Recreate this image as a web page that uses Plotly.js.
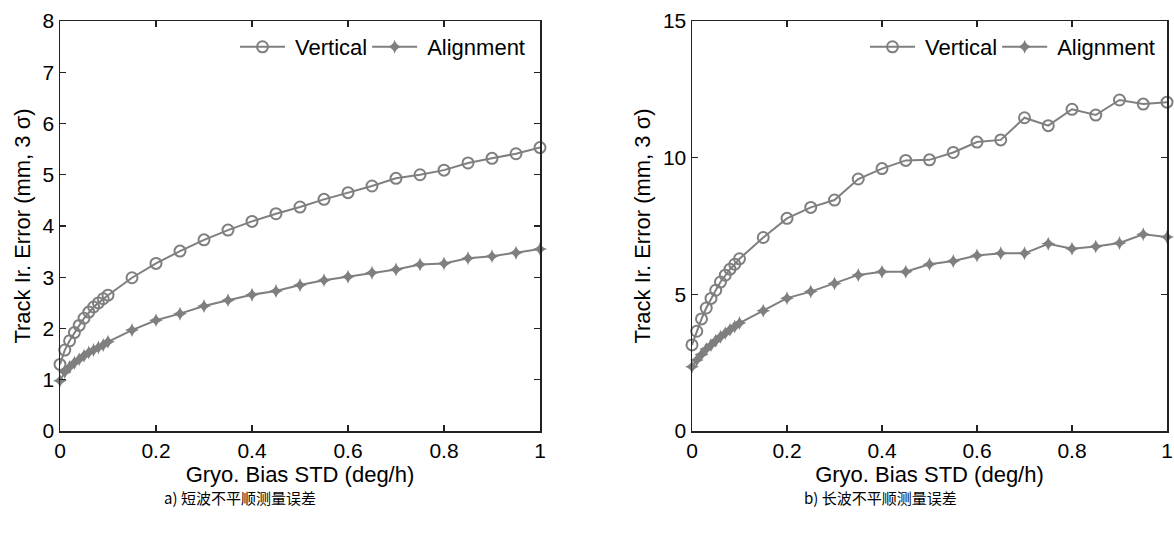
<!DOCTYPE html>
<html>
<head>
<meta charset="utf-8">
<script src="https://cdn.plot.ly/plotly-3.0.1.min.js"></script>
<style>html,body{margin:0;padding:0;background:#fff;}#chart{width:1174px;height:537px;}</style>
</head>
<body>
<div id="chart"></div>
<script>
// Gyro bias STD (deg/h)
const gyroBias = [0,0.01,0.02,0.03,0.04,0.05,0.06,0.07,0.08,0.09,0.1,
  0.15,0.2,0.25,0.3,0.35,0.4,0.45,0.5,0.55,0.6,0.65,0.7,0.75,0.8,0.85,0.9,0.95,1.0];
// a) short-wave
const shortVertical = [1.30,1.58,1.76,1.92,2.06,2.20,2.32,2.42,2.50,2.58,2.65,
  2.99,3.27,3.51,3.73,3.92,4.09,4.24,4.37,4.52,4.65,4.78,4.93,5.00,5.09,5.23,5.32,5.41,5.53];
const shortAlignment = [0.98,1.15,1.25,1.33,1.40,1.47,1.53,1.58,1.63,1.68,1.74,
  1.97,2.16,2.29,2.44,2.55,2.66,2.73,2.85,2.94,3.01,3.09,3.15,3.25,3.27,3.37,3.41,3.48,3.55];
// b) long-wave
const longVertical = [3.15,3.65,4.10,4.50,4.85,5.15,5.45,5.70,5.92,6.10,6.30,
  7.08,7.78,8.18,8.45,9.22,9.60,9.90,9.92,10.19,10.57,10.65,11.46,11.17,11.77,11.56,12.11,11.96,12.03];
const longAlignment = [2.35,2.60,2.80,3.00,3.15,3.30,3.45,3.58,3.70,3.82,3.95,
  4.40,4.86,5.10,5.40,5.71,5.83,5.83,6.10,6.22,6.42,6.50,6.50,6.85,6.67,6.75,6.88,7.20,7.10];
const seriesNames = ["Vertical", "Alignment"];
const captions = ["a) 短波不平顺测量误差", "b) 长波不平顺测量误差"];
const xTitle = "Gryo. Bias STD (deg/h)";
const yTitle = "Track Ir. Error (mm, 3 σ)";

const grey = "#7f7f7f";
const fam = "Liberation Sans, Arial, sans-serif";
const tickFont = {family: fam, size: 21, color: "#000"};
const titleFont = {family: fam, size: 22, color: "#000"};
const capFont = {family: "Noto Sans CJK SC, Liberation Sans, sans-serif", size: 15, color: "#000"};

function vTrace(y, xa, ya, lg) {
  return {x: gyroBias, y: y, xaxis: xa, yaxis: ya, legend: lg, name: seriesNames[0],
    mode: "lines+markers", cliponaxis: false,
    line: {color: grey, width: 2},
    marker: {symbol: "circle-open", size: 11, color: grey, line: {width: 2, color: grey}}};
}
function aTrace(y, xa, ya, lg) {
  return {x: gyroBias, y: y, xaxis: xa, yaxis: ya, legend: lg, name: seriesNames[1],
    mode: "lines+markers", cliponaxis: false,
    line: {color: grey, width: 2},
    marker: {symbol: "star-diamond", size: 10, color: grey, line: {width: 0}}};
}

const traces = [
  vTrace(shortVertical, "x", "y", "legend"),
  aTrace(shortAlignment, "x", "y", "legend"),
  vTrace(longVertical, "x2", "y2", "legend2"),
  aTrace(longAlignment, "x2", "y2", "legend2")
];

const W = 1174, H = 537;
const yDom = [(H - 431) / H, (H - 21) / H];
function xAxis(dom) {
  return {domain: dom, range: [0, 1], tickvals: [0,0.2,0.4,0.6,0.8,1], ticktext: ["0","0.2","0.4","0.6","0.8","1"],
    ticks: "inside", ticklen: 6, tickwidth: 1.2, tickcolor: "#222",
    showline: true, linecolor: "#222", linewidth: 1.5, mirror: "ticks",
    showgrid: false, zeroline: false, tickfont: tickFont, ticklabeloverflow: "allow",
    title: {text: xTitle, font: titleFont, standoff: 4}};
}
function yAxis(xa, range, dtick) {
  return {domain: yDom, anchor: xa, range: range, dtick: dtick,
    ticks: "inside", ticklen: 6, tickwidth: 1.2, tickcolor: "#222",
    showline: true, linecolor: "#222", linewidth: 1.5, mirror: "ticks",
    showgrid: false, zeroline: false, tickfont: tickFont, ticklabeloverflow: "allow",
    title: {text: yTitle, font: titleFont, standoff: 6}};
}

const legendCommon = {orientation: "h", xanchor: "right", y: 1 - 47 / H, yanchor: "middle",
  bgcolor: "rgba(0,0,0,0)", font: titleFont, itemwidth: 45, tracegroupgap: 0};

const layout = {
  width: W, height: H,
  margin: {l: 0, r: 0, t: 0, b: 0},
  paper_bgcolor: "#fff", plot_bgcolor: "#fff",
  font: tickFont,
  xaxis: Object.assign(xAxis([60 / W, 540 / W]), {anchor: "y"}),
  yaxis: yAxis("x", [0, 8], 1),
  xaxis2: Object.assign(xAxis([692 / W, 1167 / W]), {anchor: "y2"}),
  yaxis2: yAxis("x2", [0, 15], 5),
  legend: Object.assign({x: 530 / W}, legendCommon),
  legend2: Object.assign({x: 1160 / W}, legendCommon),
  annotations: [
    {text: captions[0], x: 240 / W, y: 1 - 497 / H, xref: "paper", yref: "paper", showarrow: false,
      xanchor: "center", yanchor: "middle", font: capFont},
    {text: captions[1], x: 880 / W, y: 1 - 497 / H, xref: "paper", yref: "paper", showarrow: false,
      xanchor: "center", yanchor: "middle", font: capFont}
  ],
  showlegend: true
};

Plotly.newPlot("chart", traces, layout, {staticPlot: true, displayModeBar: false}).then(function (gd) {
  // stretch legend sample lines to match the reference (longer line, marker centred)
  gd.querySelectorAll("g.legendlines path").forEach(function (p) { p.setAttribute("d", "M0,0h45"); });
  gd.querySelectorAll("g.legendpoints path.scatterpts").forEach(function (p) {
    p.setAttribute("transform", "translate(22.5,0)");
  });
});
</script>
</body>
</html>
